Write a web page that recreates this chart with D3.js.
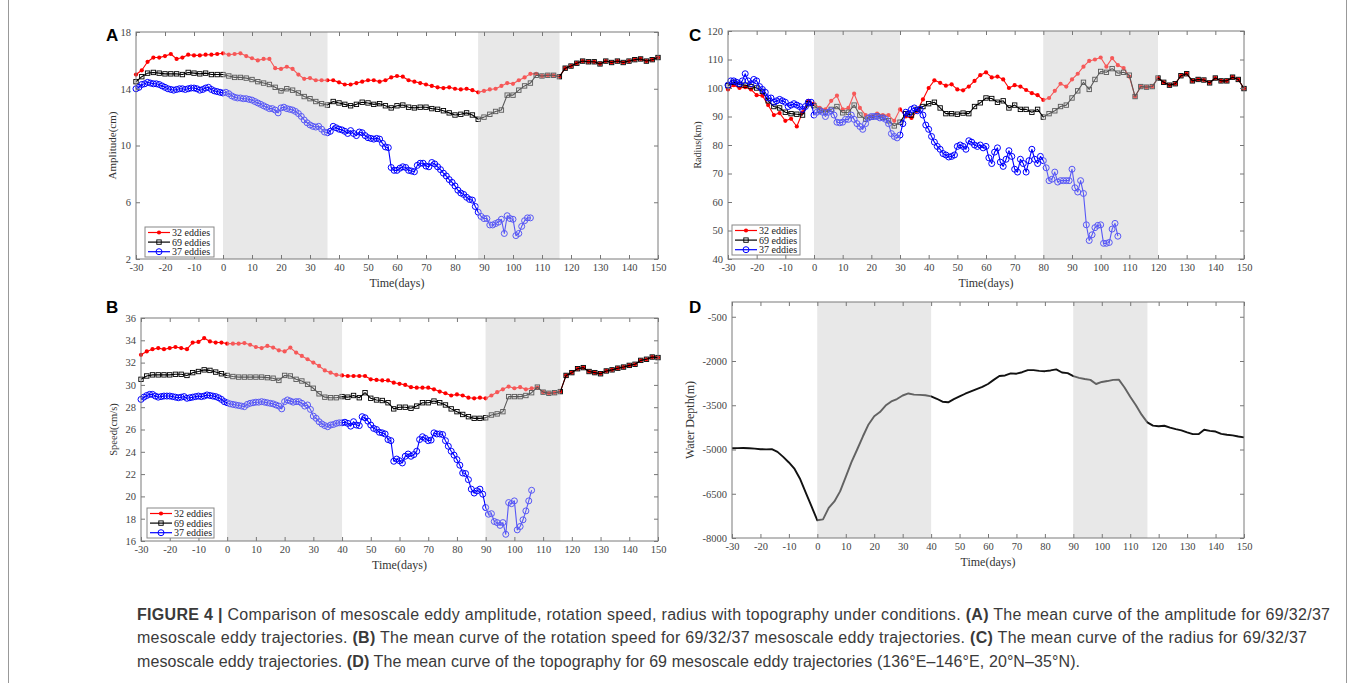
<!DOCTYPE html>
<html>
<head>
<meta charset="utf-8">
<script src="https://cdn.jsdelivr.net/npm/d3@7"></script>
<style>
  body { margin: 0; background: #fff; }
  svg { display: block; }
</style>
</head>
<body>
<svg width="1355" height="683"></svg>
<script>
// ---- data ----
// red / black series: every 2 days from day -30; blue series: every day from day -30
var redA = [15.0, 15.3, 15.9, 16.2, 16.2, 16.3, 16.45, 16.1, 16.2, 16.4,
  16.35, 16.35, 16.4, 16.4, 16.45, 16.5, 16.4, 16.45, 16.5, 16.3,
  16.15, 16.0, 16.1, 16.1, 15.45, 15.4, 15.55, 15.4, 15.0, 14.7,
  14.75, 14.6, 14.6, 14.6, 14.6, 14.45, 14.3, 14.3, 14.4, 14.5,
  14.6, 14.6, 14.5, 14.6, 14.8, 14.9, 14.85, 14.6, 14.5, 14.4,
  14.3, 14.2, 14.1, 14.05, 14.1, 14.0, 13.95, 14.0, 13.9, 13.75,
  13.85, 13.95, 14.0, 14.2, 14.4, 14.35, 14.6, 14.8, 15.05, 15.05, 14.9];
var blackA = [14.5, 14.85, 15.1, 15.15, 15.1, 15.05, 15.05, 15.05, 15.0, 15.15,
  15.1, 15.05, 15.1, 15.0, 15.0, 15.0, 14.9, 14.8, 14.8, 14.75,
  14.65, 14.5, 14.4, 14.3, 14.1, 13.85, 14.0, 13.9, 13.7, 13.45,
  13.3, 13.1, 12.95, 12.85, 13.1, 13.0, 12.9, 12.8, 12.9, 13.05,
  13.0, 12.9, 12.95, 12.8, 12.65, 12.8, 12.85, 12.7, 12.65, 12.7,
  12.7, 12.6, 12.55, 12.45, 12.3, 12.15, 12.2, 12.3, 12.15, 11.85,
  12.0, 12.2, 12.4, 12.5, 13.55, 13.55, 13.9, 14.2, 14.4, 14.95, 14.9];
// days 112..150, where the 69-eddy mean equals the 32-eddy mean
var tailA = [14.95, 14.95, 14.85, 15.45, 15.6, 15.8, 15.95, 15.9, 15.9, 15.75,
  15.95, 15.85, 15.95, 15.85, 15.95, 16.05, 16.1, 15.95, 16.05, 16.2];
var blueA = [14.0, 14.1, 14.3, 14.35, 14.45, 14.4, 14.35, 14.35, 14.3, 14.2,
  14.1, 14.0, 13.95, 13.9, 13.95, 14.0, 14.0, 13.95, 14.0, 14.05,
  14.05, 14.0, 13.9, 13.95, 14.05, 14.1, 13.95, 13.85, 13.8, 13.75,
  13.7, 13.75, 13.65, 13.5, 13.4, 13.35, 13.35, 13.3, 13.3, 13.25,
  13.2, 13.1, 13.0, 12.9, 12.8, 12.7, 12.6, 12.6, 12.5, 12.3,
  12.65, 12.7, 12.6, 12.55, 12.5, 12.4, 12.25, 12.05, 11.8, 11.6,
  11.45, 11.35, 11.3, 11.35, 11.15, 10.95, 10.9, 11.0, 11.35, 11.25,
  11.15, 11.1, 11.0, 10.85, 11.05, 10.85, 10.7, 10.95, 10.9, 10.7,
  10.55, 10.5, 10.45, 10.5, 10.45, 10.15, 9.9, 9.85, 8.45, 8.25,
  8.25, 8.4, 8.5, 8.45, 8.25, 8.2, 8.15, 8.6, 8.75, 8.75,
  8.55, 8.5, 8.8, 8.7, 8.5, 8.3, 8.05, 7.85, 7.6, 7.4,
  7.15, 6.85, 6.65, 6.55, 6.35, 6.2, 6.15, 5.7, 5.3, 5.0,
  4.85, 4.85, 4.4, 4.4, 4.5, 4.6, 4.8, 3.8, 5.05, 4.85,
  4.8, 3.65, 3.8, 4.3, 4.7, 4.9, 4.9];

var redB = [32.7, 33.0, 33.2, 33.3, 33.2, 33.3, 33.4, 33.3, 33.2, 33.8,
  33.85, 34.2, 33.9, 33.8, 33.8, 33.7, 33.7, 33.7, 33.75, 33.6,
  33.4, 33.3, 33.5, 33.35, 33.1, 33.0, 33.35, 32.9, 32.6, 32.3,
  32.0, 31.7, 31.3, 31.1, 30.9, 30.85, 30.8, 30.8, 30.8, 30.8,
  30.5, 30.45, 30.4, 30.4, 30.2, 30.1, 30.0, 29.8, 29.75, 29.75,
  29.75, 29.6, 29.4, 29.25, 29.05, 29.15, 29.05, 28.85, 28.8, 28.85,
  28.8, 29.05, 29.35, 29.6, 29.85, 29.7, 29.8, 29.6, 29.7, 29.75];
var blackB = [30.5, 30.8, 30.9, 30.9, 30.9, 30.9, 30.95, 30.95, 30.85, 31.1,
  31.2, 31.35, 31.3, 31.15, 31.0, 30.85, 30.75, 30.7, 30.7, 30.7,
  30.7, 30.7, 30.65, 30.6, 30.4, 30.85, 30.8, 30.5, 30.35, 30.05,
  29.7, 29.2, 28.9, 28.85, 28.85, 28.95, 28.9, 29.05, 28.85, 29.3,
  28.8, 28.65, 28.6, 28.4, 27.85, 28.0, 28.0, 27.9, 28.1, 28.4,
  28.4, 28.55, 28.4, 28.2, 27.85, 27.6, 27.35, 27.15, 27.0, 27.0,
  27.05, 27.3, 27.4, 27.6, 28.95, 28.95, 28.95, 29.05, 29.3, 29.8];
// days 110..150
var tailB = [29.35, 29.25, 29.3, 29.4, 30.85, 31.1, 31.45, 31.55, 31.2, 31.1,
  31.0, 31.25, 31.35, 31.5, 31.6, 31.75, 31.85, 32.2, 32.3, 32.5, 32.45];
var blueB = [28.7, 28.9, 29.05, 29.15, 29.15, 29.0, 28.9, 28.95, 29.0, 29.0,
  29.0, 28.95, 28.9, 28.85, 28.9, 28.95, 28.8, 28.85, 28.9, 28.95,
  29.0, 28.95, 29.0, 29.1, 29.05, 29.0, 28.95, 28.85, 28.7, 28.5,
  28.4, 28.3, 28.25, 28.2, 28.15, 28.1, 28.05, 28.25, 28.35, 28.4,
  28.45, 28.45, 28.5, 28.45, 28.4, 28.35, 28.3, 28.2, 28.1, 27.85,
  28.5, 28.65, 28.55, 28.45, 28.5, 28.5, 28.35, 28.1, 28.2, 27.8,
  27.2, 27.0, 26.7, 26.5, 26.35, 26.25, 26.4, 26.45, 26.55, 26.6,
  26.6, 26.65, 26.55, 26.3, 26.7, 26.4, 26.35, 27.15, 27.05, 26.75,
  26.4, 26.1, 26.0, 25.75, 25.7, 25.6, 25.1, 25.0, 23.15, 23.35,
  23.2, 23.0, 23.6, 23.8, 23.6, 23.75, 24.05, 25.1, 25.35, 25.2,
  25.0, 25.05, 25.7, 25.6, 25.6, 25.55, 25.0, 24.5, 24.05, 23.7,
  23.3, 22.8, 22.1, 22.05, 21.5, 20.65, 20.3, 20.5, 20.65, 20.2,
  19.0, 18.4, 18.45, 17.75, 17.65, 17.4, 17.65, 16.6, 19.45, 19.35,
  19.6, 17.0, 17.3, 17.9, 18.7, 19.6, 20.55];

var redC = [99.5, 101, 100, 100.3, 99.5, 97.5, 97.3, 94, 90.5, 91.2,
  88.5, 89.2, 86.5, 91.5, 95.5, 94.5, 93, 92.5, 95.5, 97.3,
  92.5, 93, 98, 93, 90.5, 90, 91, 90.5, 90.5, 88.5,
  92.5, 90, 89.5, 92, 96, 100, 102.7, 101.8, 100.8, 101.3,
  99.5, 99.2, 100.5, 102.5, 104.5, 105.5, 103.7, 104, 103, 100,
  101, 100.5, 99.3, 98.2, 97.5, 95.8, 96.5, 99, 101.5, 100.5,
  103, 105, 107.5, 109.5, 110, 110.7, 107.5, 110.5, 108, 107, 104];
var blackC = [100.8, 102, 101.2, 101, 100.5, 100, 98.8, 95.5, 93.5, 93,
  91.5, 91, 90.8, 90.5, 94.5, 93.8, 92.2, 91.5, 92.5, 93.5,
  91.3, 91.5, 94, 90.5, 89, 89.7, 90.2, 89.7, 88.5, 86.7,
  88, 91, 90.5, 92.5, 93.5, 94.5, 95, 93, 91, 91,
  90.8, 91.2, 91, 93.5, 94.8, 96.5, 96.3, 95, 95.5, 93,
  94, 92.5, 92.5, 91.5, 92.5, 89.8, 91, 92, 93.5, 94,
  96.5, 99, 102, 99.5, 103, 105.8, 105.5, 106.8, 105.2, 105.5, 104.5];
// days 112..150
var tailC = [97, 100.5, 100.3, 100.5, 103.5, 102, 101, 101.5, 104.3, 105,
  102.5, 103, 102.8, 101.8, 103.5, 102.5, 102.5, 103.8, 103, 99.8];
var blueC = [101, 102.5, 102.5, 102, 101.5, 102.5, 105, 102.5, 101.5, 103,
  102.5, 100.5, 99.5, 98.5, 96.5, 96.5, 95, 95.5, 96, 95.5,
  95, 93.5, 94, 94.5, 94, 93.5, 92.5, 93.5, 95, 95,
  90.5, 91.5, 92, 91.5, 90, 91.5, 92, 90.5, 88, 87.8,
  88, 89, 89, 90.5, 89, 87.5, 86.5, 85.5, 87.5, 89.5,
  90, 90, 90, 89.5, 89.5, 89, 87.5, 84, 83, 82.5,
  83.5, 87.5, 91.5, 91, 92.5, 93, 92, 92.5, 90.5, 87,
  85.5, 83, 81, 79.5, 78.5, 77, 76.5, 75.8, 76, 76.5,
  79.5, 80, 79.5, 78.5, 81.5, 81, 80, 79.5, 80, 79,
  79.5, 75.5, 73.5, 77.5, 79, 74, 72.5, 75, 78, 76,
  71.5, 70.5, 75, 73.5, 70.5, 74.5, 78.5, 75, 73.5, 76,
  74.5, 72, 67.5, 68, 70.5, 67, 67.5, 67.5, 67.5, 67.5,
  71.5, 65, 63.5, 67.5, 63, 52, 46.5, 48.5, 51, 51.8,
  52, 45.5, 45.5, 45.8, 50.5, 52.5, 48];

// water depth, every 2 days from -30 to 150
var depthD = [-4960, -4955, -4950, -4960, -4970, -4990, -4995, -4990, -5080, -5250,
  -5440, -5660, -6010, -6480, -6940, -7400, -7370, -6980, -6760, -6420,
  -5930, -5430, -5000, -4560, -4150, -3870, -3730, -3510, -3370, -3290,
  -3170, -3100, -3140, -3150, -3160, -3200, -3280, -3380, -3400, -3290,
  -3200, -3110, -3030, -2950, -2880, -2780, -2640, -2510, -2490, -2420,
  -2430, -2380, -2310, -2310, -2335, -2345, -2320, -2285, -2390, -2410,
  -2510, -2570, -2610, -2640, -2780, -2710, -2680, -2640, -2630, -2900,
  -3210, -3500, -3820, -4080, -4190, -4210, -4195, -4260, -4310, -4350,
  -4420, -4480, -4480, -4330, -4370, -4390, -4470, -4500, -4520, -4560, -4590];

var xTicks = [-30, -20, -10, 0, 10, 20, 30, 40, 50, 60, 70, 80, 90, 100, 110, 120, 130, 140, 150];
var ticksA = [2, 6, 10, 14, 18];
var ticksB = [16, 18, 20, 22, 24, 26, 28, 30, 32, 34, 36];
var ticksC = [40, 50, 60, 70, 80, 90, 100, 110, 120];
var ticksD = [-8000, -6500, -5000, -3500, -2000, -500];
var shadesA = [[0, 36], [88, 116]];
var shadesB = [[0, 40], [90, 116]];
var shadesC = [[0, 30], [80, 120]];
var shadesD = [[0, 40], [90, 116]];
var legendNames = ["32 eddies", "69 eddies", "37 eddies"];

var RED = "#ff0000", BLACK = "#000000", BLUE = "#0000ff";
var serif = "'Liberation Serif', 'Times New Roman', serif";
var sans = "'Liberation Sans', Arial, sans-serif";

var svg = d3.select("svg");

// outer frame of the figure
svg.append("line").attr("x1", 8.5).attr("x2", 8.5).attr("y1", 0).attr("y2", 683)
  .attr("stroke", "#999").attr("stroke-width", 1);
svg.append("line").attr("x1", 1346.5).attr("x2", 1346.5).attr("y1", 0).attr("y2", 683)
  .attr("stroke", "#999").attr("stroke-width", 1);

function drawMarkers(g, pts, s, x, y) {
  var m = g.append("g");
  if (s.marker == "dot") {
    m.selectAll("circle").data(pts).enter().append("circle")
      .attr("cx", function(d) { return x(d.t); })
      .attr("cy", function(d) { return y(d.v); })
      .attr("r", 2.1).attr("fill", s.color);
  } else if (s.marker == "square") {
    m.selectAll("rect").data(pts).enter().append("rect")
      .attr("x", function(d) { return x(d.t) - 2.2; })
      .attr("y", function(d) { return y(d.v) - 2.2; })
      .attr("width", 4.4).attr("height", 4.4)
      .attr("fill", "none").attr("stroke", s.color).attr("stroke-width", 0.9);
  } else if (s.marker == "circle") {
    m.selectAll("circle").data(pts).enter().append("circle")
      .attr("cx", function(d) { return x(d.t); })
      .attr("cy", function(d) { return y(d.v); })
      .attr("r", 3).attr("fill", "none").attr("stroke", s.color).attr("stroke-width", 1);
  }
}

function drawPanel(p) {
  var x = d3.scaleLinear().domain([-30, 150]).range([p.left, p.right]);
  var y = d3.scaleLinear().domain(p.yDomain).range([p.bottom, p.top]);
  var g = svg.append("g");

  g.selectAll("rect.shade").data(p.shades).enter().append("rect")
    .attr("class", "shade")
    .attr("x", function(d) { return x(d[0]); })
    .attr("width", function(d) { return x(d[1]) - x(d[0]); })
    .attr("y", p.top).attr("height", p.bottom - p.top)
    .attr("fill", "#e8e8e8");

  p.series.forEach(function(s) {
    var pts = s.values.map(function(v, i) { return {t: s.start + i * s.step, v: v}; });
    var line = d3.line().x(function(d) { return x(d.t); }).y(function(d) { return y(d.v); });
    g.append("path").datum(pts).attr("d", line)
      .attr("fill", "none").attr("stroke", s.color)
      .attr("stroke-width", s.width || 1.1).attr("stroke-linejoin", "round");
    if (s.marker) drawMarkers(g, pts, s, x, y);
  });

  // the shaded periods wash out the curves a bit
  g.selectAll("rect.wash").data(p.shades).enter().append("rect")
    .attr("class", "wash")
    .attr("x", function(d) { return x(d[0]); })
    .attr("width", function(d) { return x(d[1]) - x(d[0]); })
    .attr("y", p.top).attr("height", p.bottom - p.top)
    .attr("fill", "#e8e8e8").attr("opacity", 0.38);

  // axes, MATLAB style: ticks inside, mirrored on all sides
  var fmt = function(d) { return String(d); };
  g.append("g").attr("transform", "translate(0," + p.bottom + ")")
    .call(d3.axisBottom(x).tickValues(xTicks).tickSize(-4).tickPadding(5).tickFormat(fmt));
  g.append("g").attr("transform", "translate(0," + p.top + ")")
    .call(d3.axisTop(x).tickValues(xTicks).tickSize(-4).tickFormat(""));
  g.append("g").attr("transform", "translate(" + p.left + ",0)")
    .call(d3.axisLeft(y).tickValues(p.yTicks).tickSize(-4).tickPadding(5).tickFormat(fmt));
  g.append("g").attr("transform", "translate(" + p.right + ",0)")
    .call(d3.axisRight(y).tickValues(p.yTicks).tickSize(-4).tickFormat(""));
  g.selectAll(".domain").remove();
  g.selectAll(".tick line").attr("stroke", "#777");
  g.selectAll(".tick text").attr("fill", "#444")
    .style("font-family", serif).style("font-size", "10.5px");

  g.append("rect").attr("x", p.left).attr("y", p.top)
    .attr("width", p.right - p.left).attr("height", p.bottom - p.top)
    .attr("fill", "none").attr("stroke", "#7a7a7a").attr("stroke-width", 1);

  g.append("text").attr("x", (p.left + p.right) / 2).attr("y", p.bottom + 28)
    .attr("text-anchor", "middle").attr("fill", "#333")
    .style("font-family", serif).style("font-size", "12px")
    .text("Time(days)");
  g.append("text")
    .attr("transform", "translate(" + p.yLabelX + "," + ((p.top + p.bottom) / 2) + ") rotate(-90)")
    .attr("text-anchor", "middle").attr("fill", "#333")
    .style("font-family", serif).style("font-size", p.yLabelSize + "px")
    .text(p.yLabel);

  svg.append("text").attr("x", p.letterX).attr("y", p.letterY)
    .attr("fill", "#000").style("font-family", sans).style("font-weight", "bold")
    .style("font-size", "17px").text(p.letter);

  if (p.legend) {
    var L = p.legend;
    var lg = g.append("g").attr("transform", "translate(" + L.x + "," + L.y + ")");
    lg.append("rect").attr("width", L.w).attr("height", 30)
      .attr("fill", "#fff").attr("stroke", "#888").attr("stroke-width", 1);
    var rows = lg.selectAll("g.row").data(p.series.slice(0, 3)).enter().append("g")
      .attr("class", "row")
      .attr("transform", function(d, i) { return "translate(0," + (5.5 + i * 9.6) + ")"; });
    rows.append("line").attr("x1", 3).attr("x2", 25).attr("y1", 0).attr("y2", 0)
      .attr("stroke", function(d) { return d.color; }).attr("stroke-width", 1.2);
    rows.each(function(d) {
      drawMarkers(d3.select(this), [{t: 14, v: 0}], d,
        function(t) { return t; }, function(v) { return v; });
    });
    rows.append("text").attr("x", 27).attr("y", 3.5)
      .attr("fill", "#222").style("font-family", serif).style("font-size", "10px")
      .text(function(d, i) { return legendNames[i]; });
  }
}

drawPanel({
  letter: "A", letterX: 106, letterY: 41,
  left: 136, right: 658, top: 32, bottom: 259,
  yDomain: [2, 18], yTicks: ticksA, shades: shadesA,
  yLabel: "Amplitude(cm)", yLabelX: 116, yLabelSize: 11,
  legend: {x: 145, y: 227, w: 69},
  series: [
    {values: redA.concat(tailA), start: -30, step: 2, color: RED, marker: "dot"},
    {values: blackA.concat(tailA), start: -30, step: 2, color: BLACK, marker: "square"},
    {values: blueA, start: -30, step: 1, color: BLUE, marker: "circle"}
  ]
});

drawPanel({
  letter: "B", letterX: 106, letterY: 313,
  left: 141, right: 658, top: 318, bottom: 541,
  yDomain: [16, 36], yTicks: ticksB, shades: shadesB,
  yLabel: "Speed(cm/s)", yLabelX: 117, yLabelSize: 10.5,
  legend: {x: 147, y: 508, w: 67},
  series: [
    {values: redB.concat(tailB), start: -30, step: 2, color: RED, marker: "dot"},
    {values: blackB.concat(tailB), start: -30, step: 2, color: BLACK, marker: "square"},
    {values: blueB, start: -30, step: 1, color: BLUE, marker: "circle"}
  ]
});

drawPanel({
  letter: "C", letterX: 689, letterY: 41,
  left: 728, right: 1244, top: 31, bottom: 259,
  yDomain: [40, 120], yTicks: ticksC, shades: shadesC,
  yLabel: "Radius(km)", yLabelX: 701, yLabelSize: 10,
  legend: {x: 732, y: 225, w: 68},
  series: [
    {values: redC.concat(tailC), start: -30, step: 2, color: RED, marker: "dot"},
    {values: blackC.concat(tailC), start: -30, step: 2, color: BLACK, marker: "square"},
    {values: blueC, start: -30, step: 1, color: BLUE, marker: "circle"}
  ]
});

drawPanel({
  letter: "D", letterX: 689, letterY: 313,
  left: 732, right: 1244, top: 302, bottom: 538,
  yDomain: [-8000, 0], yTicks: ticksD, shades: shadesD,
  yLabel: "Water Depth(m)", yLabelX: 694, yLabelSize: 12,
  series: [
    {values: depthD, start: -30, step: 2, color: "#111", width: 1.9}
  ]
});

// caption, each line stretched to the width it has in the printed figure
var captionLines = [
  [["FIGURE 4 | ", true], ["Comparison of mesoscale eddy amplitude, rotation speed, radius with topography under conditions. ", false],
   ["(A)", true], [" The mean curve of the amplitude for 69/32/37", false]],
  [["mesoscale eddy trajectories. ", false], ["(B)", true], [" The mean curve of the rotation speed for 69/32/37 mesoscale eddy trajectories. ", false],
   ["(C)", true], [" The mean curve of the radius for 69/32/37", false]],
  [["mesoscale eddy trajectories. ", false], ["(D)", true],
   [" The mean curve of the topography for 69 mesoscale eddy trajectories (136\u00b0E\u2013146\u00b0E, 20\u00b0N\u201335\u00b0N).", false]]
];
var captionWidths = [1193, 1170, 943];
var cap = svg.append("g");
captionLines.forEach(function(segs, i) {
  var t = cap.append("text").attr("x", 137).attr("y", 620 + i * 23.3)
    .attr("fill", "#3a3a3a").style("font-family", sans).style("font-size", "16px")
    .attr("xml:space", "preserve").style("white-space", "pre")
    .attr("textLength", captionWidths[i]).attr("lengthAdjust", "spacing");
  segs.forEach(function(s) {
    t.append("tspan").style("font-weight", s[1] ? "bold" : "normal").text(s[0]);
  });
});
</script>
</body>
</html>
